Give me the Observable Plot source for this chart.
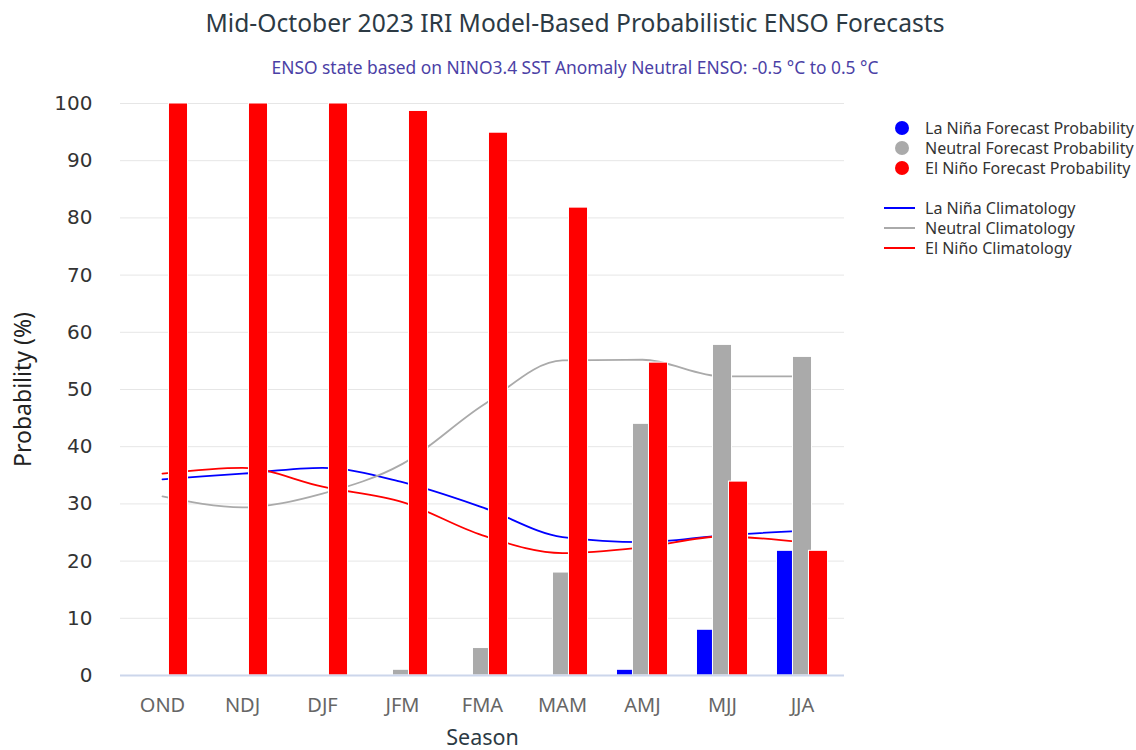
<!DOCTYPE html>
<html><head><meta charset="utf-8">
<script src="https://cdn.jsdelivr.net/npm/d3@7"></script>
<script src="https://cdn.jsdelivr.net/npm/@observablehq/plot@0.6"></script>
<style>
body{margin:0;background:#fff;}
#wrap{position:relative;width:1136px;height:750px;font-family:"Noto Sans",sans-serif;overflow:hidden;}
#title{position:absolute;left:0;width:1150px;top:6px;text-align:center;font-size:24.6px;color:#2c3a44;white-space:nowrap;}
#subtitle{position:absolute;left:0;width:1150px;top:55px;text-align:center;font-size:17.4px;color:#4b3fa6;white-space:nowrap;}
#chart{position:absolute;left:0;top:75px;}
#legend{position:absolute;left:880px;top:118px;font-size:16px;color:#333;}
.li{position:relative;height:20px;line-height:20px;padding-left:45px;white-space:nowrap;}
.dot{position:absolute;left:15px;top:3px;width:14px;height:14px;border-radius:50%;}
.ln{position:absolute;left:4px;top:9px;width:31px;height:2px;}
</style></head>
<body>
<div id="wrap">
  <div id="title">Mid-October 2023 IRI Model-Based Probabilistic ENSO Forecasts</div>
  <div id="subtitle">ENSO state based on NINO3.4 SST Anomaly Neutral ENSO: -0.5 °C to 0.5 °C</div>
  <div id="chart"></div>
  <div id="legend"></div>
</div>
<script>
const seasons = ["OND","NDJ","DJF","JFM","FMA","MAM","AMJ","MJJ","JJA"];
const laNinaProb  = [0, 0, 0, 0, 0, 0, 1, 8, 21.8];
const neutralProb = [0, 0, 0, 1, 4.8, 18, 44, 57.8, 55.7];
const elNinoProb  = [100, 100, 100, 98.7, 94.9, 81.8, 54.7, 33.9, 21.8];
const laNinaClim  = [34.3, 35.3, 36.3, 33.8, 29.4, 24.2, 23.3, 24.5, 25.3];
const neutralClim = [31.3, 29.4, 31.8, 37.0, 47.2, 55.1, 55.2, 52.3, 52.3];
const elNinoClim  = [35.3, 36.3, 33.0, 30.3, 24.5, 21.4, 22.4, 24.3, 23.3];
const yTicks = [0,10,20,30,40,50,60,70,80,90,100];
const barNames = ["La Niña Forecast Probability","Neutral Forecast Probability","El Niño Forecast Probability"];
const lineNames = ["La Niña Climatology","Neutral Climatology","El Niño Climatology"];
const colors = ["#0000ff","#aaaaaa","#ff0000"];

const W = 1136, H = 675, ML = 120, MR = 292, MT = 28, MB = 75;
const bw = (W - ML - MR) / seasons.length;
const barW = 19.5, step = 16;
const side = (bw - barW) / 2;

const toRows = vals => seasons.map((s, i) => ({season: s, value: vals[i]}));
const probSeries = [laNinaProb, neutralProb, elNinoProb];
const climSeries = [laNinaClim, neutralClim, elNinoClim];

const marks = [
  Plot.ruleY(yTicks.filter(d => d > 0), {stroke: "#e6e6e6", strokeWidth: 1})
];
climSeries.forEach((vals, k) => {
  marks.push(Plot.line(toRows(vals), {x: "season", y: "value", stroke: colors[k], strokeWidth: 1.8, curve: "monotone-x"}));
});
probSeries.forEach((vals, k) => {
  const off = (k - 1) * step;
  marks.push(Plot.barY(toRows(vals).filter(d => d.value > 0), {
    x: "season", y: "value", fill: colors[k], stroke: "#fff", strokeWidth: 1,
    insetLeft: side + off, insetRight: side - off
  }));
});
marks.push(Plot.ruleY([0], {stroke: "#ccd6eb", strokeWidth: 2}));
marks.push(Plot.axisY(yTicks, {tickSize: 0, tickPadding: 28, fontSize: 20, fill: "#333", label: null, fontFamily: "DejaVu Sans"}));
marks.push(Plot.axisX({tickSize: 0, tickPadding: 22, fontSize: 20, fill: "#666", label: null}));
marks.push(Plot.text(["Probability (%)"], {frameAnchor: "left", textAnchor: "middle", dx: -97, rotate: -90, fontSize: 23, fill: "#222"}));
marks.push(Plot.text(["Season"], {frameAnchor: "bottom", lineAnchor: "middle", dy: 63, fontSize: 21.5, fill: "#2c3a44"}));

const chart = Plot.plot({
  width: W, height: H,
  marginLeft: ML, marginRight: MR, marginTop: MT, marginBottom: MB,
  style: {fontFamily: "Noto Sans, sans-serif", background: "transparent", overflow: "visible"},
  x: {type: "band", domain: seasons, padding: 0, axis: null},
  y: {domain: [0, 100], axis: null},
  marks
});
document.getElementById("chart").append(chart);

const lg = document.getElementById("legend");
barNames.forEach((n, k) => {
  lg.insertAdjacentHTML("beforeend", `<div class="li"><span class="dot" style="background:${colors[k]}"></span>${n}</div>`);
});
lg.insertAdjacentHTML("beforeend", `<div class="li"></div>`);
lineNames.forEach((n, k) => {
  lg.insertAdjacentHTML("beforeend", `<div class="li"><span class="ln" style="background:${colors[k]}"></span>${n}</div>`);
});
</script>
</body></html>
